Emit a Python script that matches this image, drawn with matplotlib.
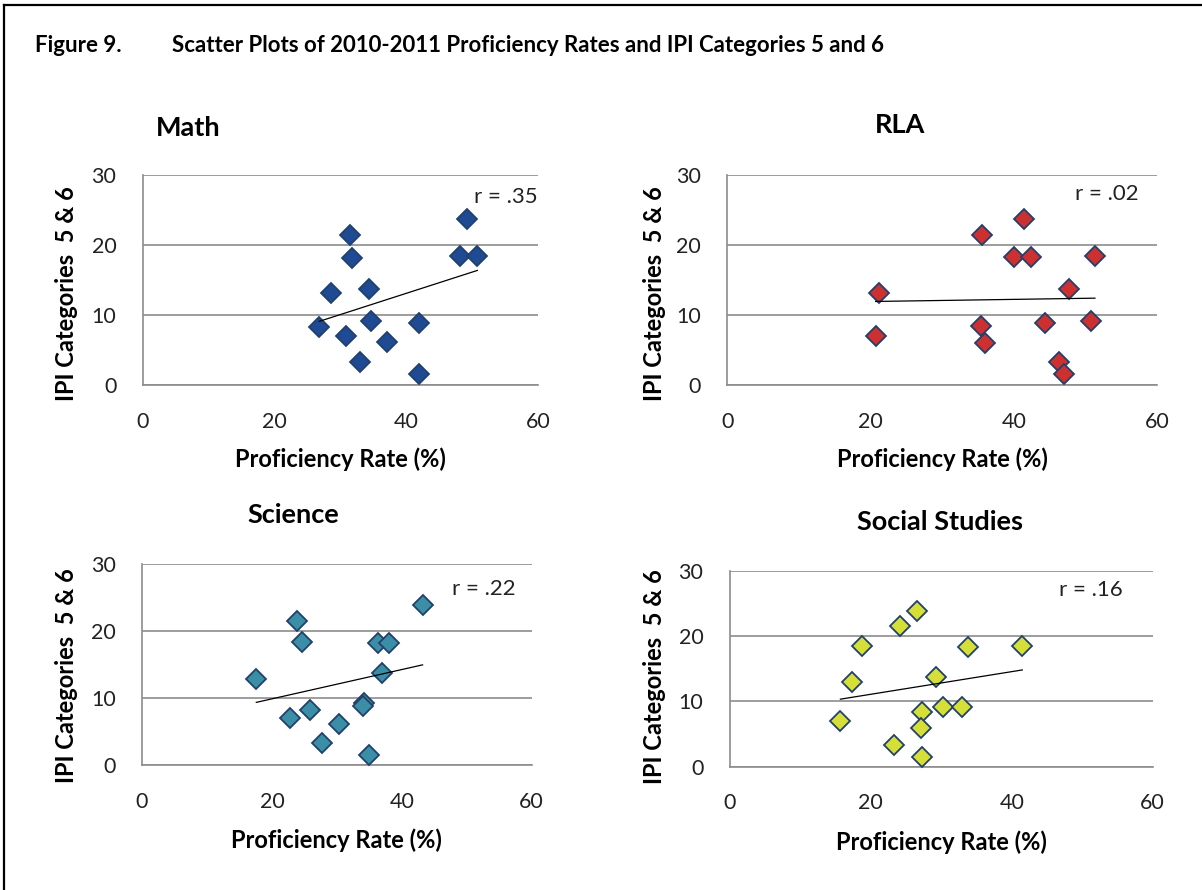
import matplotlib

matplotlib.use("Agg")
import matplotlib.pyplot as plt
import numpy as np
from matplotlib.lines import Line2D

plt.rcParams["font.family"] = ["Lato", "DejaVu Sans"]

W, H = 1202, 890

# values (proficiency rate %, IPI categories 5 & 6)
math_x = [49.2, 31.5, 31.7, 48.2, 50.8, 28.6, 34.4, 26.8, 30.8, 34.6, 41.9, 37.1, 33.0, 41.9]
math_y = [23.7, 21.5, 18.2, 18.4, 18.4, 13.1, 13.8, 8.3, 7.1, 9.2, 8.9, 6.2, 3.3, 1.6]

rla_x = [41.4, 35.6, 40.0, 42.4, 51.3, 21.1, 47.7, 20.7, 35.4, 35.9, 44.3, 50.8, 46.3, 47.0]
rla_y = [23.7, 21.5, 18.3, 18.3, 18.4, 13.1, 13.7, 7.1, 8.4, 6.1, 8.9, 9.2, 3.3, 1.6]

sci_x = [43.2, 23.9, 24.6, 36.3, 38.0, 17.6, 37.0, 34.2, 34.0, 22.8, 25.9, 30.4, 27.7, 34.9]
sci_y = [23.9, 21.5, 18.4, 18.3, 18.3, 12.9, 13.7, 9.3, 8.8, 7.0, 8.3, 6.2, 3.3, 1.6]

soc_x = [26.6, 24.2, 18.8, 33.8, 41.5, 17.4, 29.3, 30.2, 33.0, 27.3, 15.7, 27.1, 23.3, 27.3]
soc_y = [23.9, 21.5, 18.4, 18.3, 18.5, 12.9, 13.8, 9.2, 9.1, 8.3, 7.0, 6.0, 3.3, 1.5]

x_ticks = [0, 20, 40, 60]
y_ticks = [0, 10, 20, 30]

panels = [
    # name, x, y, r label, face colour, axes box in px (left, top, right, bottom),
    # title centre px, r label anchor px, ylabel centre px, xlabel y px
    ("Math", math_x, math_y, "r = .35", "#1f4a94",
     (142.7, 175, 538, 385.3), (188, 128), (538, 197), (67, 294), 459),
    ("RLA", rla_x, rla_y, "r = .02", "#cd3030",
     (727.3, 175, 1157.3, 385.3), (900, 125), (1139, 194), (655, 294), 459),
    ("Science", sci_x, sci_y, "r = .22", "#3a8fa6",
     (142, 564, 531.7, 765.3), (293, 515), (516, 589), (67, 676), 840),
    ("Social Studies", soc_x, soc_y, "r = .16", "#d6df38",
     (729.7, 570.7, 1152.7, 766.7), (940, 522), (1123, 590), (655, 677), 842),
]

fig = plt.figure(figsize=(W / 100, H / 100), dpi=100)


def fx(px):
    return px / W


def fy(py):
    return 1 - py / H


for name, xs, ys, rlab, color, box, tpos, rpos, ylpos, xly in panels:
    l, t, r, b = box
    ax = fig.add_axes([fx(l), fy(b), (r - l) / W, (b - t) / H])
    ax.set_xlim(0, 60)
    ax.set_ylim(0, 30)
    ax.set_xticks(x_ticks)
    ax.set_yticks(y_ticks)
    ax.tick_params(length=0, labelsize=15.5, colors="#222222", pad=19)
    for side in ("top", "right"):
        ax.spines[side].set_visible(False)
    for side in ("left", "bottom"):
        ax.spines[side].set_color("#8c8c8c")
        ax.spines[side].set_linewidth(1.2)
    ax.grid(axis="y", color="#8c8c8c", linewidth=1.2)
    ax.set_axisbelow(True)

    xs_a = np.array(xs)
    ys_a = np.array(ys)
    slope, icpt = np.polyfit(xs_a, ys_a, 1)
    lx = np.array([xs_a.min(), xs_a.max()])
    ax.plot(lx, slope * lx + icpt, color="black", linewidth=0.9, zorder=4)
    ax.plot(xs, ys, linestyle="none", marker="D", markersize=10.5,
            markerfacecolor=color, markeredgecolor="#23406a",
            markeredgewidth=1.3, zorder=3, clip_on=False)

    fig.text(fx(tpos[0]), fy(tpos[1]), name, ha="center", va="center",
             fontsize=19.5, fontweight="bold")
    fig.text(fx(rpos[0]), fy(rpos[1]), rlab, ha="right", va="center",
             fontsize=16, color="#222222")
    fig.text(fx(ylpos[0]), fy(ylpos[1]), "IPI Categories  5 & 6", rotation=90,
             ha="center", va="center", fontsize=17, fontweight="bold")
    fig.text(fx((l + r) / 2), fy(xly), "Proficiency Rate (%)", ha="center",
             va="center", fontsize=17, fontweight="bold")

fig.text(fx(35), fy(45), "Figure 9.", ha="left", va="center",
         fontsize=16, fontweight="bold")
fig.text(fx(172), fy(45),
         "Scatter Plots of 2010-2011 Proficiency Rates and IPI Categories 5 and 6",
         ha="left", va="center", fontsize=16, fontweight="bold")

# page frame (top and left edges)
fig.add_artist(Line2D([fx(4), fx(4)], [0, fy(5)], color="black", linewidth=1.6))
fig.add_artist(Line2D([fx(4), 1], [fy(5), fy(5)], color="black", linewidth=1.6))

fig.savefig("out.png", dpi=100, facecolor="white")
